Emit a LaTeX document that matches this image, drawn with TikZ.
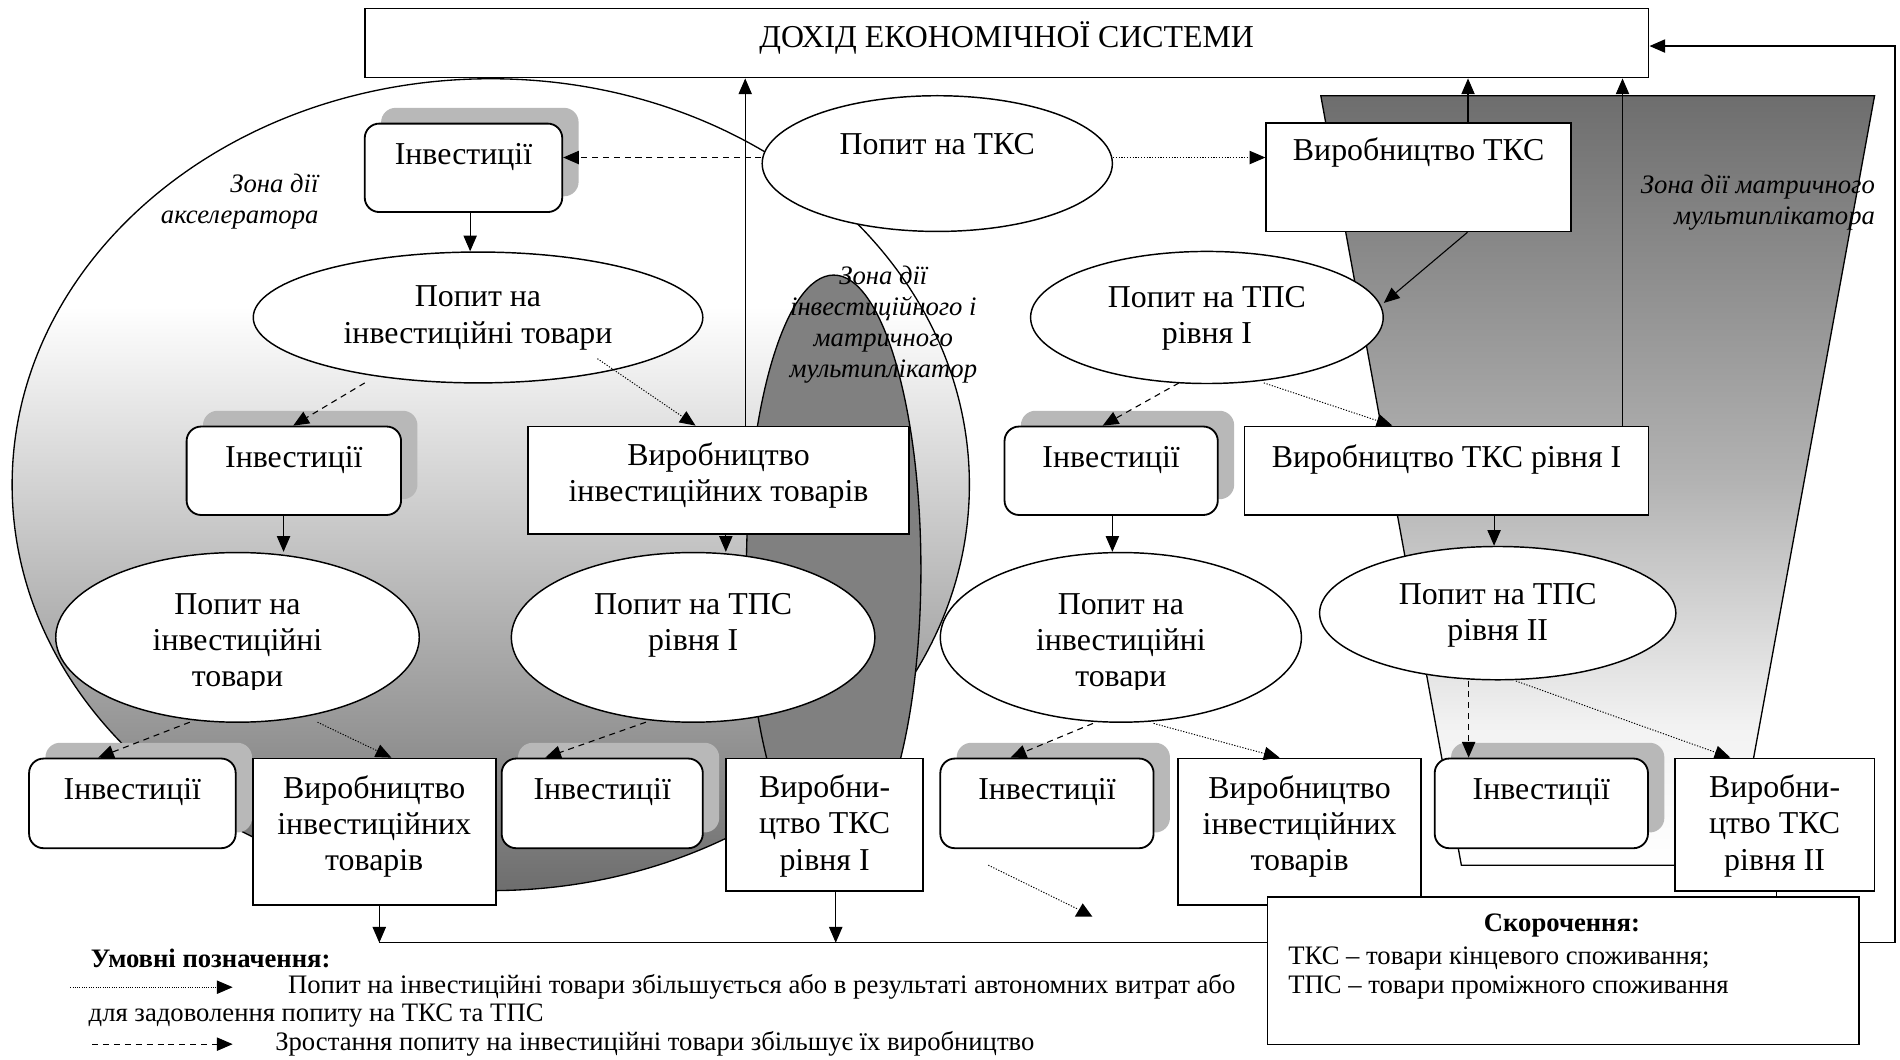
\documentclass[tikz,border=0pt]{standalone}
\usepackage{fontspec}
\setmainfont{Liberation Serif}
\usetikzlibrary{arrows.meta,shapes.geometric,calc,shadows}

\definecolor{accdark}{gray}{0.43}
\definecolor{trdark}{gray}{0.43}
\definecolor{trmid}{gray}{0.70}
\definecolor{trlight}{gray}{0.95}
\definecolor{darkzone}{gray}{0.50}
\definecolor{shadowc}{gray}{0.72}

% accelerator zone: dark at the bottom, white in the upper part
\pgfdeclareverticalshading{accelshade}{100bp}{color(0bp)=(accdark); color(25bp)=(accdark); color(61bp)=(white); color(100bp)=(white)}
% matrix multiplier zone: dark at the top, fading to white
\pgfdeclareverticalshading{matshade}{100bp}{color(0bp)=(white); color(25bp)=(white); color(34bp)=(trlight); color(50bp)=(trmid); color(75bp)=(trdark); color(100bp)=(trdark)}

\newcommand\mainsize{\fontsize{26.3}{30}\selectfont}
\newcommand\zonesize{\fontsize{22}{25.5}\selectfont\itshape}
\newcommand\legsize{\fontsize{22}{24}\selectfont}

\begin{document}
\begin{tikzpicture}[x=1pt,y=-1pt,
  sz/.style 2 args={minimum width=#1pt, minimum height=#2pt},
  box/.style={draw, rectangle, fill=white, inner sep=0pt, line width=1.5pt},
  invbox/.style={box, rounded corners=12pt,
    general shadow={fill=shadowc, shadow xshift=13.5pt, shadow yshift=13pt}},
  oval/.style={draw, ellipse, fill=white, inner sep=0pt, line width=1.2pt},
  txt/.style={font=\mainsize, align=center, inner sep=0pt},
  zlbl/.style={font=\zonesize, inner sep=0pt},
  leg/.style={font=\legsize, inner sep=0pt, anchor=west},
  zoneline/.style={line width=1.1pt},
  arr/.style={-{Triangle[length=13pt,width=11pt]}, line width=0.9pt},
  dashedc/.style={dash pattern=on 5pt off 4pt},
  dottedc/.style={dash pattern=on 1pt off 1.3pt, line width=0.8pt},
]
\useasboundingbox (0,0) rectangle (1568,874);

% ---- zones ----
\draw[zoneline, shading=accelshade] (405,400) ellipse [x radius=395, y radius=335];
\draw[zoneline, shading=matshade] (1090,79) -- (1547,79) -- (1431,714) -- (1206,714) -- cycle;
\draw[zoneline, fill=darkzone] (688,470) ellipse [x radius=72, y radius=243];

\node[zlbl, align=right, anchor=east] (z1) at (263,166.5) {Зона дії\\акселератора};
\node[zlbl, align=center] (z2) at (729,268) {Зона дії\\інвестиційного і\\матричного\\мультиплікатор};
\node[zlbl, align=right, anchor=east] (z3) at (1547.5,167.5) {Зона дії матричного\\мультиплікатора};

% ---- top level ----
\node[box, sz={1059.5}{57}] (top) at (830.75,35.5) {};
\node[txt] (top-t) at ($(top)+(0,-4.5)$) {ДОХІД ЕКОНОМІЧНОЇ СИСТЕМИ};

\node[invbox, sz={163}{73}] (inv1) at (382.5,138.5) {};
\node[txt] (inv1-t) at ($(inv1)+(0,-8.5)$) {Інвестиції};
\node[oval, sz={289}{112}] (dem1) at (773.5,135) {};
\node[txt] (dem1-t) at ($(dem1)+(0,-16)$) {Попит на ТКС};
\node[box, sz={251.5}{89.5}] (ptks) at (1170.75,146.25) {};
\node[txt] (ptks-t) at ($(ptks)+(0,-20)$) {Виробництво ТКС};

% ---- second level ----
\node[oval, sz={371}{108}] (dem2) at (394.5,262) {};
\node[txt] (dem2-t) at ($(dem2)+(0,0.5)$) {Попит на\\інвестиційні товари};
\node[oval, sz={291}{109}] (dem3) at (996,262) {};
\node[txt] (dem3-t) at ($(dem3)+(0,0.5)$) {Попит на ТПС\\рівня І};

% ---- third level ----
\node[invbox, sz={177}{73}] (inv2) at (242.5,388.5) {};
\node[txt] (inv2-t) at ($(inv2)+(0,-8.5)$) {Інвестиції};
\node[box, sz={314}{89}] (pinv1) at (593,396.5) {};
\node[txt] (pinv1-t) at ($(pinv1)+(0,-4)$) {Виробництво\\інвестиційних товарів};
\node[invbox, sz={176}{73}] (inv3) at (917,388.5) {};
\node[txt] (inv3-t) at ($(inv3)+(0,-8.5)$) {Інвестиції};
\node[box, sz={333.5}{73}] (ptks1) at (1193.75,388.5) {};
\node[txt] (ptks1-t) at ($(ptks1)+(0,-9.5)$) {Виробництво ТКС рівня І};

% ---- fourth level ----
\node[oval, sz={300}{140}] (dem4) at (196,526) {};
\node[oval, sz={300}{140}] (dem5) at (572,526) {};
\node[txt] (dem5-t) at ($(dem5)+(0,-10)$) {Попит на ТПС\\рівня І};
\node[oval, sz={298}{140}] (dem6) at (925,526) {};
\node[oval, sz={294}{110}] (dem7) at (1236,506) {};
\node[txt] (dem7-t) at ($(dem7)+(0,2)$) {Попит на ТПС\\рівня ІІ};
\begin{scope}
  \clip (0,0) rectangle (1568,569);
  \node[txt] (dem4-t) at ($(dem4)+(0,5)$) {Попит на\\інвестиційні\\товари};
  \node[txt] (dem6-t) at ($(dem6)+(0,5)$) {Попит на\\інвестиційні\\товари};
\end{scope}

% ---- bottom level ----
\node[invbox, sz={170.5}{74}] (inv4) at (109.25,663) {};
\node[txt] (inv4-t) at ($(inv4)+(0,-9)$) {Інвестиції};
\node[box, sz={200.3}{121}] (pinv2) at (308.85,686.5) {};
\node[txt] (pinv2-t) at ($(pinv2)+(0,-4.5)$) {Виробництво\\інвестиційних\\товарів};
\node[invbox, sz={166}{74}] (inv5) at (497,663) {};
\node[txt] (inv5-t) at ($(inv5)+(0,-9)$) {Інвестиції};
\node[box, sz={163}{109}] (ptks1b) at (680.5,680.5) {};
\node[txt] (ptks1b-t) at ($(ptks1b)+(0,1)$) {Виробни-\\цтво ТКС\\рівня І};
\node[invbox, sz={176}{74}] (inv6) at (864,663) {};
\node[txt] (inv6-t) at ($(inv6)+(0,-9)$) {Інвестиції};
\node[box, sz={201}{121}] (pinv3) at (1072.5,686.5) {};
\node[txt] (pinv3-t) at ($(pinv3)+(0,-4.5)$) {Виробництво\\інвестиційних\\товарів};
\node[invbox, sz={176}{74}] (inv7) at (1272,663) {};
\node[txt] (inv7-t) at ($(inv7)+(0,-9)$) {Інвестиції};
\node[box, sz={165}{109}] (ptks2) at (1464.5,680.5) {};
\node[txt] (ptks2-t) at ($(ptks2)+(0,1)$) {Виробни-\\цтво ТКС\\рівня ІІ};

% ---- connectors ----
\draw[arr] (pinv1.north -| 615,0) -- (top.south -| 615,0);
\draw[arr] (ptks.north -| 1211.5,0) -- (top.south -| 1211.5,0);
\draw[arr] (ptks1.north -| 1339,0) -- (top.south -| 1339,0);
\draw[arr] ($(ptks.south)+(40.25,0)$) -- ($(dem3)+(146,-12)$);
\draw[arr, dashedc] (dem1.west |- 0,130) -- (inv1.east |- 0,130);
\draw[arr, dottedc] (dem1.east |- 0,130) -- (ptks.west |- 0,130);
\draw[arr] (inv1.south -| 388,0) -- (dem2.north -| 388,0);
\draw[arr, dashedc] ($(dem2)+(-93.5,54)$) -- ($(inv2.north)+(-0.5,0)$);
\draw[arr, dottedc] ($(dem2)+(98.5,34)$) -- ($(pinv1.north)+(-19,0)$);
\draw[arr, dashedc] ($(dem3)+(-23,54)$) -- ($(inv3.north)+(-7,0)$);
\draw[arr, dottedc] ($(dem3)+(47,54)$) -- ($(ptks1.north)+(-44.75,0)$);
\draw[arr] (inv2.south -| 234,0) -- (dem4.north -| 234,0);
\draw[arr] (pinv1.south -| 599,0) -- (dem5.north -| 599,0);
\draw[arr] (inv3.south -| 918,0) -- (dem6.north -| 918,0);
\draw[arr] (ptks1.south -| 1233,0) -- (dem7.north -| 1233,0);
\draw[arr, dashedc] ($(dem4)+(-39.4,70)$) -- ($(inv4.north)+(-28.25,0)$);
\draw[arr, dottedc] ($(dem4)+(66,70)$) -- ($(pinv2.north)+(14.15,0)$);
\draw[arr, dashedc] ($(dem5)+(-39,70)$) -- ($(inv5.north)+(-47,0)$);
\draw[arr, dashedc] ($(dem6)+(-23,71)$) -- ($(inv6.north)+(-30,0)$);
\draw[arr, dottedc] ($(dem6)+(27,71)$) -- ($(pinv3.north)+(-16.5,0)$);
\draw[arr, dashedc] (dem7.south -| 1212,0) -- (inv7.north -| 1212,0);
\draw[arr, dottedc] ($(dem7)+(15,56)$) -- ($(ptks2.north)+(-36.5,0)$);

% stray dotted pointer below the investment box
\coordinate (ls) at (815.6,714);
\coordinate (le) at (889,750);
\draw[dottedc] (ls) -- (le);
\fill (le) ++(-2,6.5) -- ++(14.5,0) -- ++(-8,-11) -- cycle;

% ---- collecting line back to the income box ----
\coordinate (busL) at (313,778);
\coordinate (busR) at (1564,778);
\draw[arr] (pinv2.south -| busL) -- (busL);
\draw[arr] (ptks1b.south -| 689.7,0) -- (busL -| 689.7,0);
\draw[arr] (ptks2.south -| 1466,0) -- (busL -| 1466,0);
\draw[arr, line width=1.2pt] (busL) -- (busR) -- (busR |- 0,38) -- (top.east |- 0,38);

% ---- abbreviations ----
\node[box, sz={488}{122}] (abbr) at (1290,801) {};
\node[font=\legsize\bfseries, inner sep=0pt] (abbr-h) at (1289,764) {Скорочення:};
\node[leg] (abbr-1) at (1063,790.7) {ТКС – товари кінцевого споживання;};
\node[leg] (abbr-2) at (1063,814.7) {ТПС – товари проміжного споживання};

% ---- legend ----
\node[leg, font=\legsize\bfseries] (leg-h) at (74.8,790.7) {Умовні позначення:};
\coordinate (l1a) at (58,814.7);
\coordinate (l1b) at (192,814.7);
\draw[arr, dash pattern=on 0.7pt off 1.2pt, line width=0.7pt] (l1a) -- (l1b);
\node[leg] (leg-1) at (237.5,814.7) {Попит на інвестиційні товари збільшується або в результаті автономних витрат або};
\node[leg] (leg-2) at (73,838) {для задоволення попиту на ТКС та ТПС};
\coordinate (l2a) at (76,861.7);
\coordinate (l2b) at (192,861.7);
\draw[arr, dashedc] (l2a) -- (l2b);
\node[leg] (leg-3) at (227,861.7) {Зростання попиту на інвестиційні товари збільшує їх виробництво};
\end{tikzpicture}
\end{document}
